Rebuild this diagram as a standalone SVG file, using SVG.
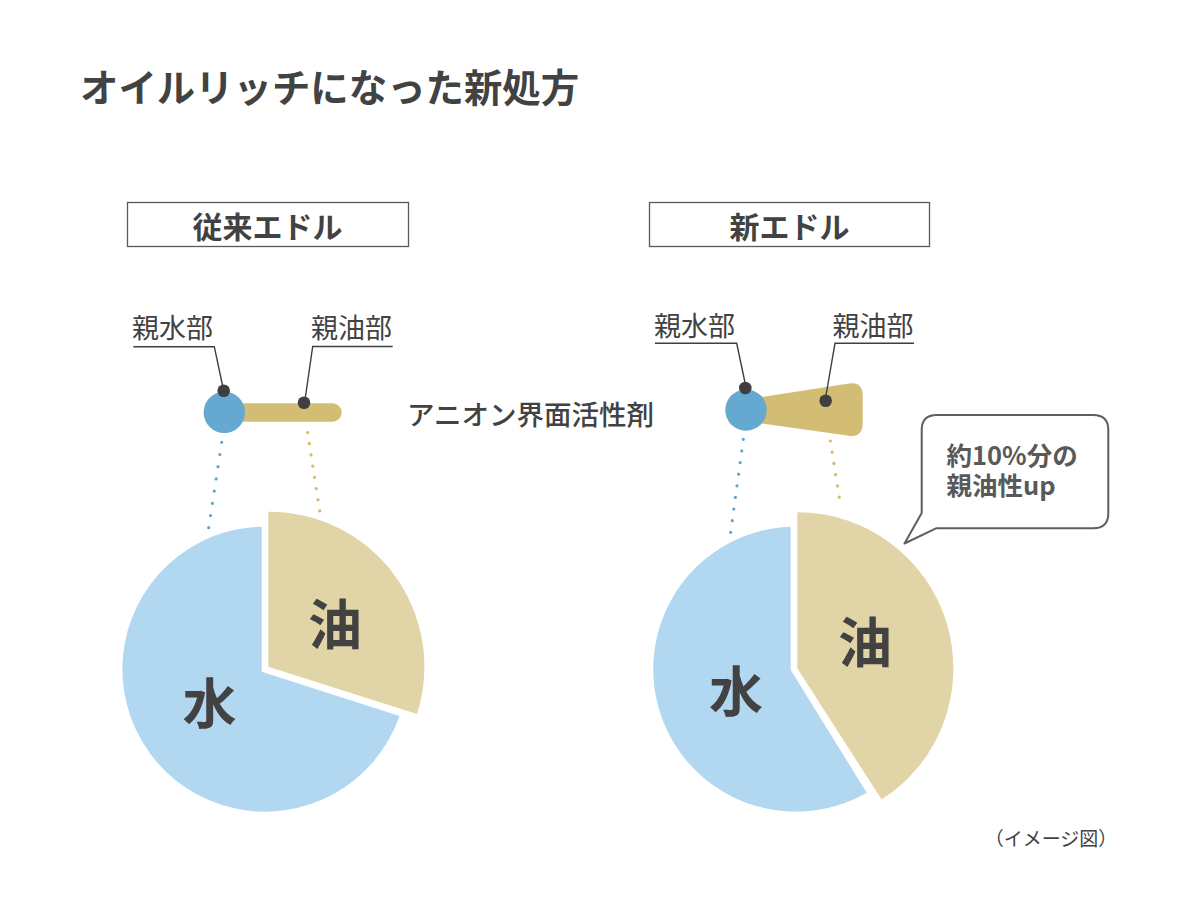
<svg xmlns="http://www.w3.org/2000/svg" width="1200" height="912" viewBox="0 0 1200 912">
<style>
text{font-family:"Noto Sans CJK JP","Noto Sans",sans-serif;fill:#424242}
.title{font-size:38.4px;font-weight:700}
.head{font-size:30px;font-weight:700}
.lbl{font-size:27px;font-weight:400}
.mid{font-size:27.5px;font-weight:500}
.pie{font-size:54px;font-weight:700}
.bub{font-size:25.5px;font-weight:700;fill:#595959}
.cap{font-size:19px;font-weight:400}
.box{fill:#fff;stroke:#5a5a5a;stroke-width:1.3}
.leader{fill:none;stroke:#3f3f3f;stroke-width:1.4}
.dotb{fill:none;stroke:#5fa3cf;stroke-width:3.2;stroke-linecap:round}
.dotg{fill:none;stroke:#d4b96b;stroke-width:3.2;stroke-linecap:round}
.water{fill:#b1d7f1}
.oil{fill:#e1d4a6}
.head-c{fill:#65a9d0}
.tail{fill:#d3bc73}
.pin{fill:#3f3f3f}
</style>

<text class="title" x="80" y="102">オイルリッチになった新処方</text>

<g id="box-old">
<rect class="box" x="127.5" y="202.5" width="281" height="44"/>
<text class="head" x="267.5" y="225" text-anchor="middle" dominant-baseline="central">従来エドル</text>
</g>
<g id="box-new">
<rect class="box" x="649.5" y="202.5" width="280" height="44"/>
<text class="head" x="789.5" y="225" text-anchor="middle" dominant-baseline="central">新エドル</text>
</g>

<g id="molecule-old">
<rect class="tail" x="224" y="403.3" width="117.7" height="18.4" rx="9.2"/>
<circle class="head-c" cx="224.3" cy="412.3" r="20.7"/>
<circle class="pin" cx="223.7" cy="390.7" r="6.3"/>
<circle class="pin" cx="304" cy="402.7" r="6.3"/>
</g>

<g id="molecule-new">
<path class="tail" d="M758,397.5 L849,383.6 Q862.7,381.5 862.7,396 L862.7,423 Q862.7,437.5 849,435.8 L762,423.5 Z"/>
<circle class="head-c" cx="746" cy="410" r="20.7"/>
<circle class="pin" cx="745.3" cy="388" r="6.3"/>
<circle class="pin" cx="825.7" cy="400.7" r="6.3"/>
</g>

<text class="mid" x="407" y="412.5" dominant-baseline="central">アニオン界面活性剤</text>

<g id="labels">
<text class="lbl" x="132" y="326" dominant-baseline="central">親水部</text>
<text class="lbl" x="311" y="326" dominant-baseline="central">親油部</text>
<text class="lbl" x="654" y="324" dominant-baseline="central">親水部</text>
<text class="lbl" x="832.5" y="324" dominant-baseline="central">親油部</text>
</g>

<g id="connectors">
<polyline class="leader" points="133.3,346.7 214.3,346.7 223.3,389"/>
<polyline class="leader" points="392.7,346.5 312.7,346.5 305,400"/>
<polyline class="leader" points="655,343.3 736.7,343.3 745.3,384"/>
<polyline class="leader" points="914,343.3 835,343.3 825.7,397"/>
<path class="dotb" d="M221.7,442.3 L208.7,527.7" stroke-dasharray="0 12.34"/>
<path class="dotg" d="M307.6,432.5 L319.7,511" stroke-dasharray="0 11.34"/>
<path class="dotb" d="M743.3,439.3 L730.7,532.3" stroke-dasharray="0 11.73"/>
<path class="dotg" d="M830.3,441 L841,508.3" stroke-dasharray="0 11.36"/>
</g>

<g id="pie-old">
<path class="water" d="M261.7,671.7 L261.7,526.7 A142.5,142.5 0 1 0 399.5,716 Z"/>
<path class="oil" d="M268.3,666.7 L268.3,511.7 A155,155 0 0 1 417,714 Z"/>
<text class="pie" x="209.5" y="700" text-anchor="middle" dominant-baseline="central">水</text>
<text class="pie" x="335" y="621.7" text-anchor="middle" dominant-baseline="central">油</text>
</g>

<g id="pie-new">
<path class="water" d="M790.7,670 L790.7,526.7 A142.5,142.5 0 1 0 866.7,792.7 Z"/>
<path class="oil" d="M797.3,668.3 L797.3,512.3 A156,156 0 0 1 881.6,799.6 Z"/>
<text class="pie" x="736" y="688" text-anchor="middle" dominant-baseline="central">水</text>
<text class="pie" x="865" y="639" text-anchor="middle" dominant-baseline="central">油</text>
</g>

<g id="bubble">
<path d="M936.7,415 H1093.3 Q1108.3,415 1108.3,430 V513.3 Q1108.3,528.3 1093.3,528.3 H936 L904.5,543.5 L921.7,513 V430 Q921.7,415 936.7,415 Z" fill="#fff" stroke="#5f5f5f" stroke-width="2" stroke-linejoin="round"/>
<text class="bub" x="946.5" y="453.5" dominant-baseline="central">約10%分の</text>
<text class="bub" x="946.5" y="483.5" dominant-baseline="central">親油性up</text>
</g>

<text class="cap" x="1051" y="837.5" text-anchor="middle" dominant-baseline="central">（イメージ図）</text>
</svg>
